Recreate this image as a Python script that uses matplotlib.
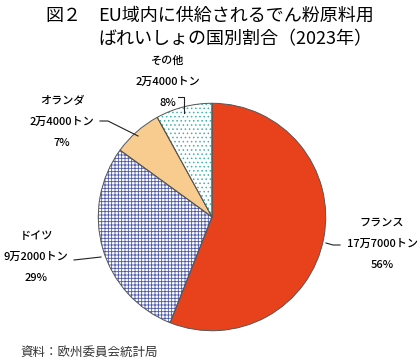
import matplotlib.pyplot as plt

plt.rcParams['font.family'] = ['Noto Sans CJK JP', 'DejaVu Sans']
plt.rcParams['hatch.linewidth'] = 0.6

# data (clockwise from 12 o'clock)
countries = ['フランス', 'ドイツ', 'オランダ', 'その他']
tonnage = ['17万7000トン', '9万2000トン', '2万4000トン', '2万4000トン']
shares = [56, 29, 7, 8]

face_colors = ['#E8421D', 'white', '#F8CB8E', 'white']
hatch_colors = ['#E8421D', '#4A57A8', '#F8CB8E', '#3DB3AE']
hatches = [None, '+++++', None, '....']

W, H = 420, 360
fig = plt.figure(figsize=(W / 100, H / 100), dpi=100)


def fx(x, y):
    return (x / W, 1 - y / H)


# pie axes: centre ~ (212, 217) px, radius ~ 116 px
cx, cy, r = 212, 217, 116
ax = fig.add_axes([(cx - r) / W, (H - cy - r) / H, 2 * r / W, 2 * r / H])

wedges, _ = ax.pie(shares, startangle=90, counterclock=False, radius=1)
for w, fc, hc, h in zip(wedges, face_colors, hatch_colors, hatches):
    w.set_facecolor(fc)
    w.set_edgecolor(hc)
    w.set_linewidth(0)
    if h:
        w.set_hatch(h)

# outlines on top
outline, _ = ax.pie(shares, startangle=90, counterclock=False, radius=1,
                    wedgeprops=dict(fill=False, edgecolor='#555555', linewidth=0.7))
ax.set_xlim(-1.02, 1.02)
ax.set_ylim(-1.02, 1.02)
ax.set_aspect('equal')
ax.axis('off')

# title
fig.text(*fx(45, 16), '図２', fontsize=13, va='center', ha='left')
fig.text(*fx(98, 16), 'EU域内に供給されるでん粉原料用', fontsize=13, va='center', ha='left')
fig.text(*fx(98, 39), 'ばれいしょの国別割合（2023年）', fontsize=13, va='center', ha='left')

# labels: (x centre, y of first line) in px
label_pos = [(382, 223), (36, 236), (62, 101), (168, 61)]
for name, tons, s, (x, y) in zip(countries, tonnage, shares, label_pos):
    fig.text(*fx(x, y), name, fontsize=8, ha='center', va='center', fontweight='medium')
    fig.text(*fx(x, y + 21), tons, fontsize=8, ha='center', va='center', fontweight='medium')
    fig.text(*fx(x, y + 42), f'{s}%', fontsize=8, ha='center', va='center', fontweight='medium')

# leader lines (px)
leaders = [
    [(326, 243), (333, 245), (340, 245)],
    [(74, 260), (101, 257)],
    [(100, 121), (108, 121), (138, 136)],
    [(178, 97), (184, 97), (184, 113)],
]
for pts in leaders:
    xs = [p[0] / W for p in pts]
    ys = [1 - p[1] / H for p in pts]
    fig.add_artist(plt.Line2D(xs, ys, color='#222222', linewidth=0.8))

# source
fig.text(*fx(20, 352), '資料：欧州委員会統計局', fontsize=9, ha='left', va='center',
         color='#333333')

fig.savefig('out.png', dpi=100)
